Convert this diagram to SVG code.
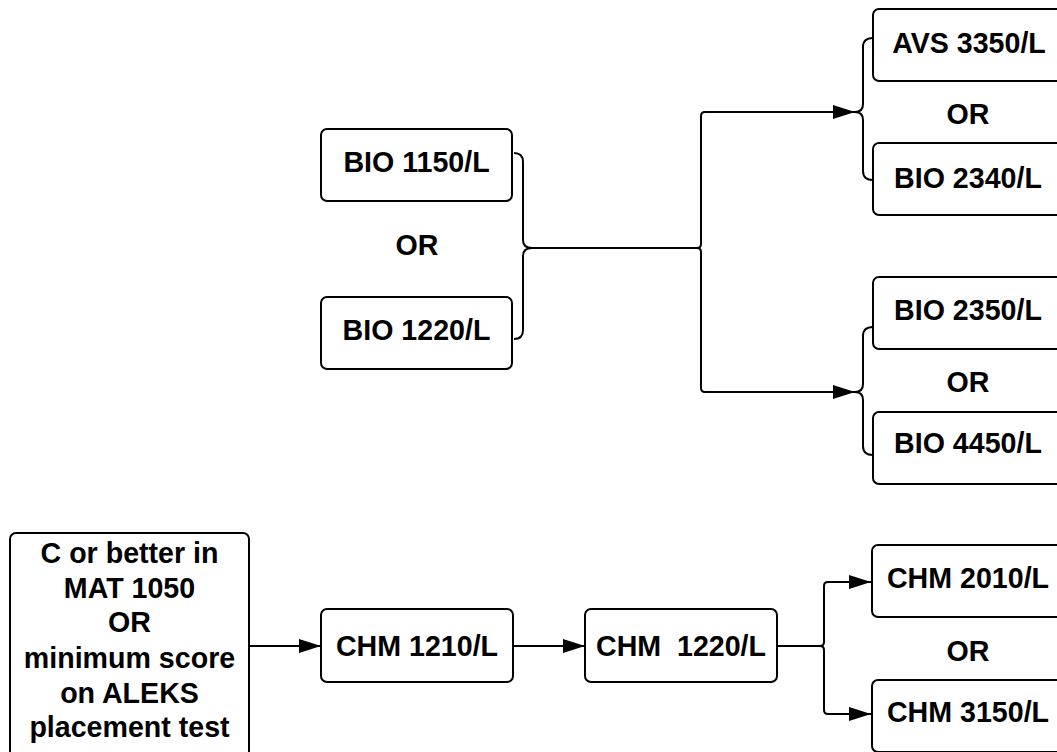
<svg xmlns="http://www.w3.org/2000/svg" width="1057" height="752" viewBox="0 0 1057 752">
<style>
.box{fill:#fff;stroke:#000;stroke-width:2}
.t{font-family:"Liberation Sans",Arial,sans-serif;font-weight:bold;font-size:28.6px;fill:#000;text-anchor:middle}
.ln{fill:none;stroke:#000;stroke-width:2;stroke-linejoin:round}
</style>
<defs>
<marker id="ah" markerUnits="userSpaceOnUse" markerWidth="24" markerHeight="16" refX="22" refY="7.5" orient="auto">
<path d="M0,0.5 L22,7.5 L0,14.5 z" fill="#000"/>
</marker>
</defs>
<rect width="1057" height="752" fill="#fff"/>
<g id="connectors">
<path class="ln" d="M514,153 Q523,153 523,162 L523,240 Q523,248 532,248 Q523,248 523,256 L523,330 Q523,339 514,339"/>
<path class="ln" d="M532,248 L697,248 Q701,248 701,244 L701,116 Q701,112 705,112 L855,112" marker-end="url(#ah)"/>
<path class="ln" d="M697,248 Q701,248 701,252 L701,388 Q701,392 705,392 L855,392" marker-end="url(#ah)"/>
<path class="ln" d="M873,38 Q863,38 863,47 L863,104 Q863,112 855,112 Q863,112 863,120 L863,171 Q863,180 873,180"/>
<path class="ln" d="M873,327 Q863,327 863,336 L863,384 Q863,392 855,392 Q863,392 863,400 L863,446 Q863,455 873,455"/>
<path class="ln" d="M249,646 L321,646" marker-end="url(#ah)"/>
<path class="ln" d="M513,646 L585,646" marker-end="url(#ah)"/>
<path class="ln" d="M777,646 L820,646 Q824,646 824,642 L824,586 Q824,582 828,582 L871,582" marker-end="url(#ah)"/>
<path class="ln" d="M820,646 Q824,646 824,650 L824,710 Q824,714 828,714 L871,714" marker-end="url(#ah)"/>
</g>
<g id="bio1150"><rect class="box" x="321" y="129" width="191" height="72" rx="6"/><text class="t" x="416.5" y="172">BIO 1150/L</text></g>
<g id="or1"><text class="t" x="417" y="255">OR</text></g>
<g id="bio1220"><rect class="box" x="321" y="297" width="191" height="72" rx="6"/><text class="t" x="416.5" y="340">BIO 1220/L</text></g>
<g id="avs3350"><rect class="box" x="873" y="9" width="191" height="72" rx="6"/><text class="t" x="969" y="53">AVS 3350/L</text></g>
<g id="or2"><text class="t" x="968" y="124">OR</text></g>
<g id="bio2340"><rect class="box" x="873" y="143" width="191" height="72" rx="6"/><text class="t" x="968" y="188">BIO 2340/L</text></g>
<g id="bio2350"><rect class="box" x="873" y="277" width="191" height="72" rx="6"/><text class="t" x="968" y="320">BIO 2350/L</text></g>
<g id="or3"><text class="t" x="968" y="392">OR</text></g>
<g id="bio4450"><rect class="box" x="873" y="412" width="191" height="72" rx="6"/><text class="t" x="968" y="453">BIO 4450/L</text></g>
<g id="prereq"><rect class="box" x="10" y="533" width="239" height="240" rx="6"/>
<text class="t" x="129.5" y="563">C or better in</text>
<text class="t" x="129.5" y="598">MAT 1050</text>
<text class="t" x="129.5" y="632">OR</text>
<text class="t" x="129.5" y="668">minimum score</text>
<text class="t" x="129.5" y="703">on ALEKS</text>
<text class="t" x="129.5" y="737">placement test</text></g>
<g id="chm1210"><rect class="box" x="321" y="609" width="192" height="73" rx="6"/><text class="t" x="417" y="656">CHM 1210/L</text></g>
<g id="chm1220"><rect class="box" x="585" y="609" width="192" height="73" rx="6"/><text class="t" x="681" y="656" xml:space="preserve">CHM  1220/L</text></g>
<g id="chm2010"><rect class="box" x="872" y="545" width="191" height="72" rx="6"/><text class="t" x="968" y="588">CHM 2010/L</text></g>
<g id="or4"><text class="t" x="968" y="661">OR</text></g>
<g id="chm3150"><rect class="box" x="872" y="680" width="191" height="72" rx="6"/><text class="t" x="968" y="722">CHM 3150/L</text></g>
</svg>
